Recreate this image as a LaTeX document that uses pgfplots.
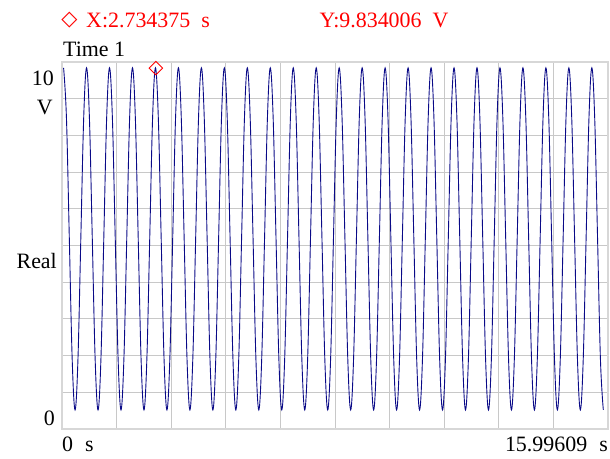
\documentclass[border=0pt]{standalone}
\usepackage{pgfplots}
\pgfplotsset{compat=1.18}
\usepackage{fontspec}
\setmainfont{Liberation Serif}
\newfontfamily\dejavu{DejaVu Sans}
\definecolor{wave}{RGB}{10,10,135}
\definecolor{gridc}{RGB}{200,200,200}
\definecolor{framec}{RGB}{215,215,215}
\definecolor{mred}{RGB}{255,0,0}
\begin{document}
\fontsize{22}{26}\selectfont
\begin{tikzpicture}
\path[use as bounding box] (0,0) rectangle (610bp,459bp);
\begin{axis}[
  at={(62bp,30bp)}, anchor=south west,
  width=546bp, height=367bp, scale only axis,
  xmin=-0.047, xmax=16.135, ymin=0, ymax=10,
  xtick={1.5712,3.1894,4.8076,6.4258,8.044,9.6622,11.2804,12.8986,14.5168},
  ytick={1,2,3,4,5,6,7,8,9},
  xticklabels={}, yticklabels={},
  major tick length=0pt,
  grid=major,
  major grid style={draw=gridc, line width=0.8bp},
  axis line style={draw=framec, line width=2bp},
  clip=true,
]
\addplot[wave, line width=0.9bp, smooth, tension=0.6] coordinates {
(0,9.84)(0.0851,8.47)(0.1702,5.18)(0.2553,1.89)(0.3403,0.52)(0.4254,1.89)(0.5105,5.18)(0.5956,8.47)
(0.6807,9.84)(0.7658,8.47)(0.8509,5.18)(0.9359,1.89)(1.0210,0.52)(1.1061,1.89)(1.1912,5.18)(1.2763,8.47)
(1.3614,9.84)(1.4465,8.47)(1.5315,5.18)(1.6166,1.89)(1.7017,0.52)(1.7868,1.89)(1.8719,5.18)(1.9570,8.47)
(2.0421,9.84)(2.1271,8.47)(2.2122,5.18)(2.2973,1.89)(2.3824,0.52)(2.4675,1.89)(2.5526,5.18)(2.6377,8.47)
(2.7227,9.84)(2.8078,8.47)(2.8929,5.18)(2.9780,1.89)(3.0631,0.52)(3.1482,1.89)(3.2333,5.18)(3.3183,8.47)
(3.4034,9.84)(3.4885,8.47)(3.5736,5.18)(3.6587,1.89)(3.7438,0.52)(3.8289,1.89)(3.9139,5.18)(3.9990,8.47)
(4.0841,9.84)(4.1692,8.47)(4.2543,5.18)(4.3394,1.89)(4.4245,0.52)(4.5095,1.89)(4.5946,5.18)(4.6797,8.47)
(4.7648,9.84)(4.8499,8.47)(4.9350,5.18)(5.0201,1.89)(5.1051,0.52)(5.1902,1.89)(5.2753,5.18)(5.3604,8.47)
(5.4455,9.84)(5.5306,8.47)(5.6157,5.18)(5.7007,1.89)(5.7858,0.52)(5.8709,1.89)(5.9560,5.18)(6.0411,8.47)
(6.1262,9.84)(6.2113,8.47)(6.2963,5.18)(6.3814,1.89)(6.4665,0.52)(6.5516,1.89)(6.6367,5.18)(6.7218,8.47)
(6.8069,9.84)(6.8919,8.47)(6.9770,5.18)(7.0621,1.89)(7.1472,0.52)(7.2323,1.89)(7.3174,5.18)(7.4024,8.47)
(7.4875,9.84)(7.5726,8.47)(7.6577,5.18)(7.7428,1.89)(7.8279,0.52)(7.9130,1.89)(7.9980,5.18)(8.0831,8.47)
(8.1682,9.84)(8.2533,8.47)(8.3384,5.18)(8.4235,1.89)(8.5086,0.52)(8.5936,1.89)(8.6787,5.18)(8.7638,8.47)
(8.8489,9.84)(8.9340,8.47)(9.0191,5.18)(9.1042,1.89)(9.1892,0.52)(9.2743,1.89)(9.3594,5.18)(9.4445,8.47)
(9.5296,9.84)(9.6147,8.47)(9.6998,5.18)(9.7848,1.89)(9.8699,0.52)(9.9550,1.89)(10.0401,5.18)(10.1252,8.47)
(10.2103,9.84)(10.2954,8.47)(10.3805,5.18)(10.4655,1.89)(10.5506,0.52)(10.6357,1.89)(10.7208,5.18)(10.8059,8.47)
(10.8910,9.84)(10.9760,8.47)(11.0611,5.18)(11.1462,1.89)(11.2313,0.52)(11.3164,1.89)(11.4015,5.18)(11.4866,8.47)
(11.5716,9.84)(11.6567,8.47)(11.7418,5.18)(11.8269,1.89)(11.9120,0.52)(11.9971,1.89)(12.0822,5.18)(12.1672,8.47)
(12.2523,9.84)(12.3374,8.47)(12.4225,5.18)(12.5076,1.89)(12.5927,0.52)(12.6778,1.89)(12.7628,5.18)(12.8479,8.47)
(12.9330,9.84)(13.0181,8.47)(13.1032,5.18)(13.1883,1.89)(13.2734,0.52)(13.3584,1.89)(13.4435,5.18)(13.5286,8.47)
(13.6137,9.84)(13.6988,8.47)(13.7839,5.18)(13.8690,1.89)(13.9540,0.52)(14.0391,1.89)(14.1242,5.18)(14.2093,8.47)
(14.2944,9.84)(14.3795,8.47)(14.4646,5.18)(14.5496,1.89)(14.6347,0.52)(14.7198,1.89)(14.8049,5.18)(14.8900,8.47)
(14.9751,9.84)(15.0602,8.47)(15.1452,5.18)(15.2303,1.89)(15.3154,0.52)(15.4005,1.89)(15.4856,5.18)(15.5707,8.47)
(15.6558,9.84)(15.7408,8.47)(15.8259,5.18)(15.9110,1.89)(15.9961,0.52)
};
\addplot[only marks, mark=square, mark size=4.8pt,
  mark options={draw=mred, fill=none, rotate=45, line width=0.9bp}]
  coordinates {(2.734375,9.834006)};
\end{axis}
% texts
\node[anchor=center, inner sep=0pt, text=mred, font={\dejavu\fontsize{21}{24}\selectfont}] at (69.5bp,439bp) {◇};
\node[anchor=base west, inner sep=0pt, text=mred] at (86bp,431.7bp) {X:2.734375\hspace{0.5em}s};
\node[anchor=base west, inner sep=0pt, text=mred] at (319.3bp,431.7bp) {Y:9.834006\hspace{0.5em}V};
\node[anchor=base west, inner sep=0pt] at (63bp,402bp) {Time 1};
\node[anchor=base east, inner sep=0pt] at (54bp,373.3bp) {10};
\node[anchor=base east, inner sep=0pt] at (53bp,344.3bp) {V};
\node[anchor=base east, inner sep=0pt] at (57bp,190bp) {Real};
\node[anchor=base east, inner sep=0pt] at (55bp,34bp) {0};
\node[anchor=base west, inner sep=0pt] at (62bp,7.3bp) {0\hspace{0.55em}s};
\node[anchor=base east, inner sep=0pt] at (608bp,7.3bp) {15.99609\hspace{0.55em}s};
\end{tikzpicture}
\end{document}
